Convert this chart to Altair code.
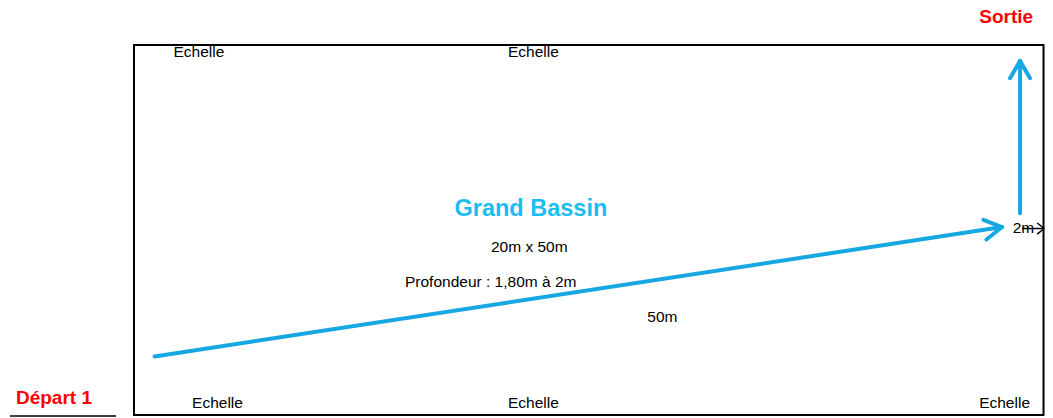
import math
import altair as alt
import pandas as pd

# ---- Pool diagram data (units: metres) ----
POOL_LENGTH = 50
POOL_WIDTH = 20

# visible window, in metres
X_DOMAIN = [-6.927, 50.082]
Y_DOMAIN = [-0.162, 22.0]
W, H = 1037, 410

# blue swimming route arrows
route_x0 = [1.13, 48.71]
route_y0 = [3.16, 10.90]
route_x1 = [47.72, 48.71]
route_y1 = [10.16, 19.14]

# small black "2m" dimension arrow
dim_x0 = [48.82]
dim_y0 = [10.08]
dim_x1 = [50.04]
dim_y1 = [10.08]

# underline below "Départ 1"
under_x0 = [-6.82]
under_x1 = [-0.99]
under_y = [-0.05]

# labels
normal_text = ["Echelle", "Echelle", "Echelle", "Echelle", "Echelle",
               "20m x 50m", "Profondeur : 1,80m à 2m", "50m", "2m"]
normal_x = [3.57, 21.96, 4.59, 21.96, 47.86, 21.73, 19.61, 29.05, 48.90]
normal_y = [19.35, 19.35, 0.36, 0.36, 0.38, 8.79, 6.94, 5.04, 9.84]

red_text = ["Départ 1", "Sortie"]
red_x = [-4.40, 47.95]
red_y = [0.59, 21.21]

title_text = ["Grand Bassin"]
title_x = [21.82]
title_y = [10.76]

BLUE = "#17a8e3"
TITLE_BLUE = "#1bbdf0"
RED = "#ff0000"
FONT = "Liberation Sans"

sx = W / (X_DOMAIN[1] - X_DOMAIN[0])
sy = H / (Y_DOMAIN[1] - Y_DOMAIN[0])


def arrow_heads(x0, y0, x1, y1, length_px, angle_deg):
    rows = []
    for a0, b0, a1, b1 in zip(x0, y0, x1, y1):
        dx = (a0 - a1) * sx
        dy = (b0 - b1) * sy
        n = math.hypot(dx, dy)
        ux, uy = dx / n, dy / n
        for sgn in (1, -1):
            t = math.radians(angle_deg) * sgn
            rx = ux * math.cos(t) - uy * math.sin(t)
            ry = ux * math.sin(t) + uy * math.cos(t)
            rows.append({"x": a1 + rx * length_px / sx,
                         "y": b1 + ry * length_px / sy,
                         "x2": a1, "y2": b1})
    return rows


xs = alt.Scale(domain=X_DOMAIN, nice=False, zero=False)
ys = alt.Scale(domain=Y_DOMAIN, nice=False, zero=False)

pool = pd.DataFrame({"x": [0], "x2": [POOL_LENGTH], "y": [0], "y2": [POOL_WIDTH]})
pool_layer = alt.Chart(pool).mark_rect(
    fillOpacity=0, stroke="black", strokeWidth=2
).encode(
    x=alt.X("x:Q", scale=xs, axis=None), x2="x2:Q",
    y=alt.Y("y:Q", scale=ys, axis=None), y2="y2:Q",
)

blue_rows = [{"x": a, "y": b, "x2": c, "y2": d}
             for a, b, c, d in zip(route_x0, route_y0, route_x1, route_y1)]
blue_rows += arrow_heads(route_x0, route_y0, route_x1, route_y1, 20, 30)
blue_layer = alt.Chart(pd.DataFrame(blue_rows)).mark_rule(
    color=BLUE, strokeWidth=4, strokeCap="round"
).encode(
    x=alt.X("x:Q", scale=xs, axis=None), x2="x2:Q",
    y=alt.Y("y:Q", scale=ys, axis=None), y2="y2:Q",
)

black_rows = [{"x": a, "y": b, "x2": c, "y2": d}
              for a, b, c, d in zip(dim_x0, dim_y0, dim_x1, dim_y1)]
black_rows += arrow_heads(dim_x0, dim_y0, dim_x1, dim_y1, 9, 38)
black_rows += [{"x": a, "y": c, "x2": b, "y2": c}
               for a, b, c in zip(under_x0, under_x1, under_y)]
black_layer = alt.Chart(pd.DataFrame(black_rows)).mark_rule(
    color="black", strokeWidth=1.5
).encode(
    x=alt.X("x:Q", scale=xs, axis=None), x2="x2:Q",
    y=alt.Y("y:Q", scale=ys, axis=None), y2="y2:Q",
)


def text_layer(texts, x, y, size, weight, color):
    df = pd.DataFrame({"t": texts, "x": x, "y": y})
    return alt.Chart(df).mark_text(
        font=FONT, fontSize=size, fontWeight=weight, color=color,
        align="center", baseline="alphabetic"
    ).encode(
        x=alt.X("x:Q", scale=xs, axis=None),
        y=alt.Y("y:Q", scale=ys, axis=None),
        text="t:N",
    )


chart = alt.layer(
    pool_layer,
    blue_layer,
    black_layer,
    text_layer(normal_text, normal_x, normal_y, 15.5, "normal", "black"),
    text_layer(red_text, red_x, red_y, 19, "bold", RED),
    text_layer(title_text, title_x, title_y, 23.5, "bold", TITLE_BLUE),
).properties(
    width=W, height=H, padding=0,
    autosize=alt.AutoSizeParams(type="none"),
).configure_view(stroke=None)

chart.save("out.html", embed_options={"renderer": "svg", "actions": False})
